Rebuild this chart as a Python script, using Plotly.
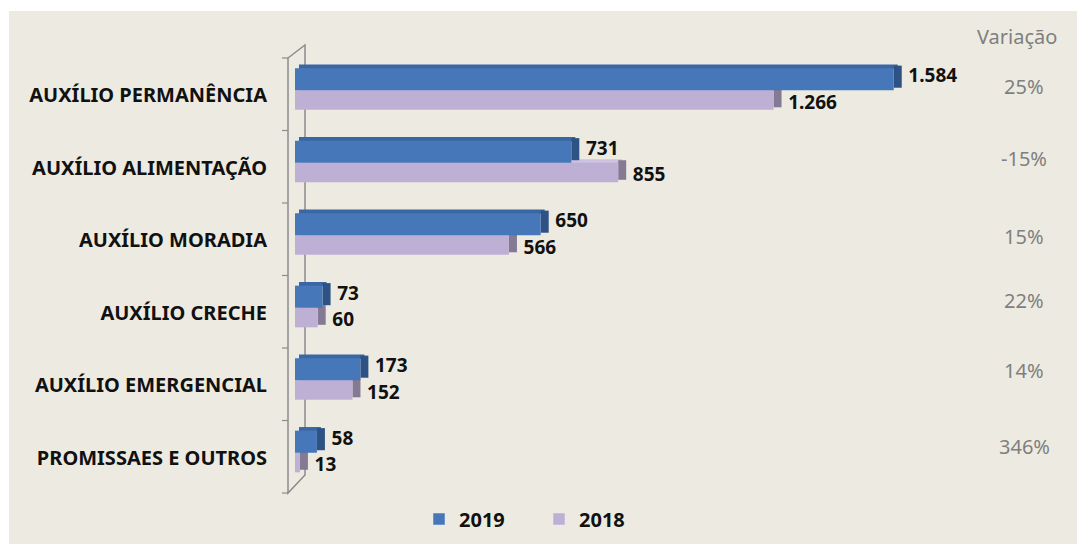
import plotly.graph_objects as go

categories = ["AUXÍLIO PERMANÊNCIA", "AUXÍLIO ALIMENTAÇÃO", "AUXÍLIO MORADIA",
              "AUXÍLIO CRECHE", "AUXÍLIO EMERGENCIAL", "PROMISSAES E OUTROS"]
values_2019 = [1584, 731, 650, 73, 173, 58]
values_2018 = [1266, 855, 566, 60, 152, 13]
series_names = ["2019", "2018"]

W, H = 1077, 544
ML, MR, MT, MB = 295, 117, 58, 51
PLOT_W = W - ML - MR
PLOT_H = H - MT - MB
XMAX = PLOT_W / 0.378
DEPTH = 8 / 0.378          # depth of the 3D side face in data units

BLUE, BLUE_SIDE, BLUE_TOP = "#4677B9", "#2D5283", "#3A67A3"
LAV, LAV_SIDE, LAV_TOP = "#BEB0D5", "#857A93", "#CDC2DF"
BG = "#EDEBE1"
FONT = "Noto Sans"
VAR_SHIFT = [8, 8.5, 3, 11.5, 14, 10.5]   # vertical placement of the variation texts (px)


def fmt(v):
    return f"{v:,}".replace(",", ".")


variation = [f"{round((a / b - 1) * 100):d}%" for a, b in zip(values_2019, values_2018)]

fig = go.Figure()

specs = [
    (values_2018, "2018", LAV, LAV_SIDE, LAV_TOP, -0.055, 0.27, 0.02),
    (values_2019, "2019", BLUE, BLUE_SIDE, BLUE_TOP, -0.36, 0.305, -0.34),
]
for vals, name, col, side, top, off, wid, lab_off in specs:
    # top face (behind)
    fig.add_trace(go.Bar(
        y=categories, x=vals, base=[DEPTH * 0.5] * len(vals), orientation="h",
        offset=off - 0.05, width=0.06, marker=dict(color=top, line_width=0),
        showlegend=False, hoverinfo="skip"))
    # side face
    fig.add_trace(go.Bar(
        y=categories, x=[DEPTH] * len(vals), base=vals, orientation="h",
        offset=off - 0.035, width=wid, marker=dict(color=side, line_width=0),
        showlegend=False, hoverinfo="skip"))
    # front face
    fig.add_trace(go.Bar(
        y=categories, x=vals, orientation="h", name=name,
        offset=off, width=wid, marker=dict(color=col, line_width=0),
        showlegend=False))
    # value labels (transparent carrier bar)
    fig.add_trace(go.Bar(
        y=categories, x=[DEPTH * 1.45] * len(vals), base=vals, orientation="h",
        offset=lab_off, width=0.16, marker=dict(color="rgba(0,0,0,0)", line_width=0),
        text=[fmt(v) for v in vals], textposition="outside", cliponaxis=False,
        constraintext="none",
        textfont=dict(family=FONT, size=19, color="#111111", weight="bold"),
        showlegend=False, hoverinfo="skip"))

# legend entries in order 2019, 2018
fig.add_trace(go.Bar(y=[None], x=[None], orientation="h", name="2019",
                     marker_color=BLUE, showlegend=True))
fig.add_trace(go.Bar(y=[None], x=[None], orientation="h", name="2018",
                     marker_color=LAV, showlegend=True))

shapes = [
    dict(type="rect", xref="paper", yref="paper",
         x0=(9 - ML) / PLOT_W, x1=(W + 5 - ML) / PLOT_W,
         y0=-(H + 5 - MT - PLOT_H) / PLOT_H, y1=1 + (MT - 11) / PLOT_H,
         fillcolor=BG, line_width=0, layer="below"),
]


def px_x(px):
    return (px - ML) / PLOT_W


def px_y(py):
    return 1 - (py - MT) / PLOT_H


wall = (f"M{px_x(288)},{px_y(58)} L{px_x(305)},{px_y(45)} L{px_x(305)},{px_y(475)} "
        f"L{px_x(288)},{px_y(493)} Z")
shapes.append(dict(type="path", xref="paper", yref="paper", path=wall,
                   line=dict(color="#8C8C8C", width=1.5), fillcolor="rgba(0,0,0,0)",
                   layer="below"))
for i in range(len(categories) + 1):
    yy = 58 + i * (493 - 58) / len(categories)
    shapes.append(dict(type="line", xref="paper", yref="paper",
                       x0=px_x(282), x1=px_x(288), y0=px_y(yy), y1=px_y(yy),
                       line=dict(color="#8C8C8C", width=1.2), layer="below"))

annotations = [dict(text="Variação", xref="paper", yref="paper",
                    x=px_x(1017), y=px_y(37), xanchor="center", yanchor="middle",
                    showarrow=False,
                    font=dict(family=FONT, size=20, color="#7F7F7F"))]
for cat, var, ys in zip(categories, variation, VAR_SHIFT):
    annotations.append(dict(text=var, xref="paper", yref="y", x=px_x(1024), y=cat,
                            xanchor="center", yshift=ys, showarrow=False,
                            font=dict(family=FONT, size=20, color="#7F7F7F")))

fig.update_layout(
    width=W, height=H,
    margin=dict(l=ML, r=MR, t=MT, b=MB, autoexpand=False),
    paper_bgcolor="white", plot_bgcolor="rgba(0,0,0,0)",
    barmode="overlay",
    shapes=shapes, annotations=annotations,
    xaxis=dict(range=[0, XMAX], visible=False, fixedrange=True),
    yaxis=dict(autorange="reversed", showgrid=False, zeroline=False, showline=False,
               ticks="", ticklabelstandoff=27, ticklabelshift=-1,
               tickfont=dict(family=FONT, size=20, color="#111111", weight="bold")),
    legend=dict(orientation="h", x=px_x(419), xanchor="left", y=px_y(519), yanchor="middle",
                font=dict(family=FONT, size=20, color="#111111", weight="bold"),
                bgcolor="rgba(0,0,0,0)", entrywidth=75, traceorder="normal"),
    showlegend=True,
)

fig.write_html("out.html")
